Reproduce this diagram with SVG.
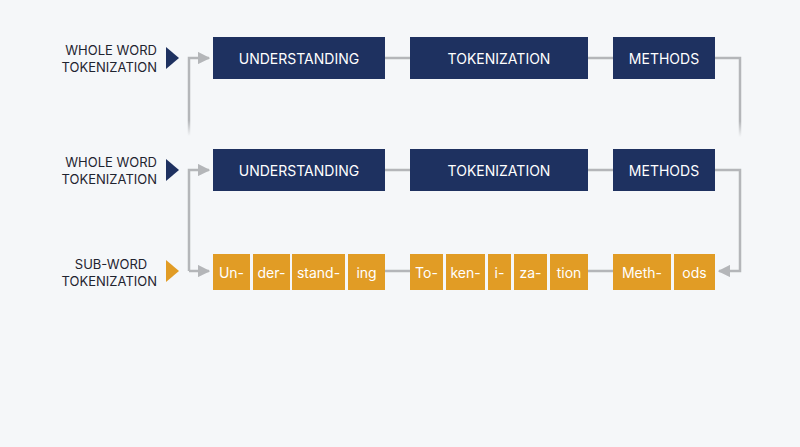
<svg xmlns="http://www.w3.org/2000/svg" width="800" height="447" viewBox="0 0 800 447">
<defs>
<style>
.lab{font-family:"Inter","Liberation Sans",sans-serif;font-size:13px;fill:#1f2430;text-anchor:end}
.nb{fill:#1e3160}
.ob{fill:#e19c25}
.nt{font-family:"Inter","Liberation Sans",sans-serif;font-size:14px;fill:#fff;text-anchor:middle;dominant-baseline:central}
.c{fill:none;stroke:#b4b6b9;stroke-width:2.5}
</style>
<marker id="ah" viewBox="0 0 10 10" refX="9" refY="5" markerWidth="5" markerHeight="5" orient="auto"><path d="M0,0L10,5L0,10z" fill="#b4b6b9"/></marker>
<linearGradient id="fu" x1="0" y1="0" x2="0" y2="1"><stop offset="0.8" stop-color="#b4b6b9"/><stop offset="1" stop-color="#b4b6b9" stop-opacity="0"/></linearGradient>
</defs>
<rect width="800" height="447" fill="#f5f7f9"/>
<g id="connectors">
<path d="M189,136V58H209" fill="none" stroke="url(#fu)" stroke-width="2.5" marker-end="url(#ah)"/>
<path d="M715,58H740V137" fill="none" stroke="url(#fu)" stroke-width="2.5"/>
<path class="c" d="M385,58H410M588,58H613"/>
<path class="c" d="M385,170H410M588,170H613"/>
<path class="c" d="M385,271H410M588,271H613"/>
<path class="c" d="M189,271V170H209" marker-end="url(#ah)"/>
<path class="c" d="M189,271H209" marker-end="url(#ah)"/>
<path class="c" d="M715,170H740V271H719" marker-end="url(#ah)"/>
</g>
<g id="label1"><text class="lab" x="157" y="55">WHOLE WORD</text><text class="lab" x="157" y="72">TOKENIZATION</text><path d="M166,47L179,58L166,69z" fill="#1e3160"/></g>
<g id="label2"><text class="lab" x="157" y="167">WHOLE WORD</text><text class="lab" x="157" y="184">TOKENIZATION</text><path d="M166,159L179,170L166,181z" fill="#1e3160"/></g>
<g id="label3"><text class="lab" x="157" y="269" style="text-anchor:middle" dx="-46">SUB-WORD</text><text class="lab" x="157" y="286">TOKENIZATION</text><path d="M166,260L179,271L166,282z" fill="#e19c25"/></g>
<g id="r1-understanding"><rect class="nb" x="213" y="37" width="172" height="42"/><text class="nt" x="299" y="58">UNDERSTANDING</text></g>
<g id="r1-tokenization"><rect class="nb" x="410" y="37" width="178" height="42"/><text class="nt" x="499" y="58">TOKENIZATION</text></g>
<g id="r1-methods"><rect class="nb" x="613" y="37" width="102" height="42"/><text class="nt" x="664" y="58">METHODS</text></g>
<g id="r2-understanding"><rect class="nb" x="213" y="149" width="172" height="42"/><text class="nt" x="299" y="170">UNDERSTANDING</text></g>
<g id="r2-tokenization"><rect class="nb" x="410" y="149" width="178" height="42"/><text class="nt" x="499" y="170">TOKENIZATION</text></g>
<g id="r2-methods"><rect class="nb" x="613" y="149" width="102" height="42"/><text class="nt" x="664" y="170">METHODS</text></g>
<g id="s-un"><rect class="ob" x="213" y="254" width="37" height="36"/><text class="nt" x="231.5" y="272">Un-</text></g>
<g id="s-der"><rect class="ob" x="253" y="254" width="37" height="36"/><text class="nt" x="271.5" y="272">der-</text></g>
<g id="s-stand"><rect class="ob" x="292" y="254" width="53" height="36"/><text class="nt" x="318.5" y="272">stand-</text></g>
<g id="s-ing"><rect class="ob" x="348" y="254" width="37" height="36"/><text class="nt" x="366.5" y="272">ing</text></g>
<g id="s-to"><rect class="ob" x="410" y="254" width="33" height="36"/><text class="nt" x="426.5" y="272">To-</text></g>
<g id="s-ken"><rect class="ob" x="446" y="254" width="39" height="36"/><text class="nt" x="465.5" y="272">ken-</text></g>
<g id="s-i"><rect class="ob" x="488" y="254" width="23" height="36"/><text class="nt" x="499.5" y="272">i-</text></g>
<g id="s-za"><rect class="ob" x="514" y="254" width="33" height="36"/><text class="nt" x="530.5" y="272">za-</text></g>
<g id="s-tion"><rect class="ob" x="550" y="254" width="38" height="36"/><text class="nt" x="569" y="272">tion</text></g>
<g id="s-meth"><rect class="ob" x="613" y="254" width="58" height="36"/><text class="nt" x="642" y="272">Meth-</text></g>
<g id="s-ods"><rect class="ob" x="674" y="254" width="41" height="36"/><text class="nt" x="694.5" y="272">ods</text></g>
</svg>
